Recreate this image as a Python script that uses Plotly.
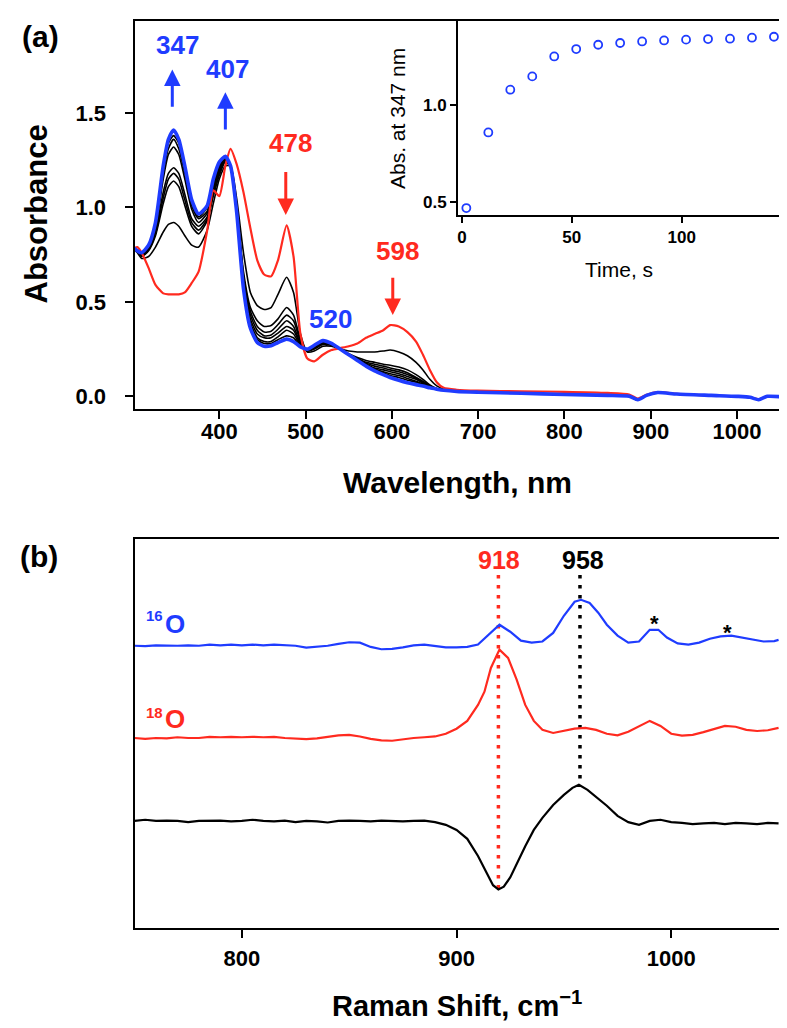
import plotly.graph_objects as go

# ---------------- Panel (a): UV-vis spectra ----------------
wl_head = [300, 305, 310, 318, 326, 335, 341, 347, 353, 360,
           368, 376, 386, 393, 400, 407, 413, 420, 428, 436,
           444, 452, 460, 468, 478, 486, 494, 502, 510, 520,
           530, 540, 550, 560, 570, 580, 590, 598, 608, 618,
           628, 636, 644, 652, 660]
wl_tail = [675, 700, 750, 800, 850, 875, 885, 895, 908, 930, 970, 1000, 1015, 1025, 1035, 1050]

red_head = [.78, .79, .76, .68, .59, .545, .54, .54, .54, .55,
            .60, .66, .88, 1.09, 1.06, 1.22, 1.31, 1.23, 1.08, .89,
            .72, .645, .635, .72, .905, .74, .33, .20, .185, .22,
            .245, .255, .265, .28, .31, .33, .35, .377, .37, .34,
            .29, .22, .14, .075, .045]
red_tail = [.035, .03, .027, .024, .018, .01, -.012, .008, .022, .013, .005, .0, -.005, -.016, .0, .0]

blue_head = [.79, .77, .76, .80, .92, 1.22, 1.36, 1.41, 1.36, 1.22,
             1.04, .965, 1.01, 1.15, 1.24, 1.27, 1.22, .98, .57, .36,
             .285, .265, .268, .285, .303, .29, .262, .25, .27, .295,
             .28, .25, .22, .19, .16, .135, .115, .10, .085, .072,
             .062, .055, .045, .038, .032]
base_tail = [.026, .022, .016, .010, .005, .0, -.018, .005, .02, .012, .005, .0, -.005, -.018, .0, -.002]

black_heads = [
    [.78, .76, .73, .74, .79, .87, .91, .92, .90, .85,
     .80, .79, .88, 1.02, 1.15, 1.22, 1.22, 1.05, .76, .55,
     .48, .46, .47, .54, .63, .55, .33, .235, .24, .265,
     .265, .25, .24, .235, .235, .235, .24, .245, .235, .215,
     .18, .14, .09, .055, .038],
    [.78, .765, .74, .77, .85, 1.02, 1.11, 1.14, 1.11, 1.01,
     .90, .86, .93, 1.06, 1.17, 1.24, 1.22, 1.02, .66, .47,
     .40, .37, .375, .41, .47, .43, .30, .24, .25, .275,
     .27, .25, .225, .205, .19, .18, .17, .165, .155, .14,
     .115, .09, .06, .042, .034],
    [.785, .77, .745, .775, .86, 1.05, 1.15, 1.18, 1.15, 1.04,
     .92, .88, .94, 1.07, 1.18, 1.25, 1.22, 1.01, .64, .45,
     .37, .34, .345, .38, .43, .40, .29, .24, .255, .28,
     .272, .25, .22, .20, .18, .17, .16, .15, .14, .125,
     .10, .08, .055, .04, .033],
    [.785, .77, .75, .78, .87, 1.08, 1.18, 1.21, 1.18, 1.07,
     .94, .90, .95, 1.08, 1.19, 1.25, 1.22, 1.00, .62, .43,
     .35, .32, .325, .355, .40, .37, .28, .245, .26, .28,
     .274, .25, .22, .195, .175, .16, .15, .14, .13, .115,
     .095, .075, .055, .04, .033],
    [.79, .77, .75, .79, .89, 1.15, 1.28, 1.32, 1.28, 1.15,
     .99, .92, .97, 1.10, 1.20, 1.26, 1.22, .99, .61, .41,
     .33, .31, .31, .335, .37, .35, .275, .245, .26, .285,
     .276, .25, .22, .19, .17, .15, .14, .13, .12, .105,
     .09, .07, .05, .039, .033],
    [.79, .77, .755, .795, .90, 1.18, 1.31, 1.36, 1.31, 1.18,
     1.01, .94, .98, 1.11, 1.21, 1.26, 1.22, .99, .60, .39,
     .31, .29, .29, .315, .35, .33, .27, .25, .265, .29,
     .278, .25, .22, .19, .165, .145, .13, .12, .11, .095,
     .08, .065, .05, .039, .033],
    [.79, .77, .755, .80, .91, 1.20, 1.34, 1.38, 1.34, 1.20,
     1.03, .95, 1.00, 1.13, 1.22, 1.27, 1.22, .985, .59, .38,
     .30, .28, .28, .30, .32, .31, .265, .25, .265, .29,
     .279, .25, .22, .19, .16, .14, .125, .11, .10, .085,
     .075, .06, .048, .038, .032],
]

# Inset: kinetics at 347 nm
time_s = [2, 12, 22, 32, 42, 52, 62, 72, 82, 92, 102, 112, 122, 132, 142]
abs347 = [0.471, 0.858, 1.077, 1.145, 1.247, 1.285, 1.307, 1.316, 1.324,
          1.329, 1.333, 1.336, 1.338, 1.343, 1.348]

# ---------------- Panel (b): Raman (offset, a.u.) ----------------
wn_16 = [750, 755, 760, 765, 770, 775, 780, 785, 790, 795, 800, 805, 810, 815, 820,
         825, 830, 835, 840, 845, 850, 855, 860, 865, 870, 875, 880, 885, 890, 895,
         900, 905, 910, 915, 920, 925, 930, 935, 940, 945, 950, 955, 958, 962, 966,
         970, 975, 980, 985, 990, 994, 998, 1003, 1008, 1013, 1018, 1023, 1028, 1033,
         1038, 1043, 1048, 1050]
int_16 = [72.5, 72.4, 72.6, 72.5, 72.5, 72.6, 72.5, 72.8, 72.6, 72.8, 72.6, 72.8, 72.6, 72.8, 72.6,
          72.5, 72.0, 72.2, 72.5, 73.0, 73.4, 73.3, 72.2, 71.6, 71.7, 72.1, 72.6, 72.8, 72.4, 72.1,
          72.1, 72.2, 72.8, 75.3, 77.9, 76.1, 73.8, 73.3, 73.6, 75.8, 80.2, 83.8, 84.3, 83.5, 81.0,
          77.9, 75.1, 73.3, 73.6, 76.6, 76.6, 74.6, 73.1, 72.8, 73.3, 74.3, 74.9, 75.1, 74.6,
          74.0, 73.6, 73.7, 74.0]

wn_18 = [750, 755, 760, 765, 770, 775, 780, 785, 790, 795, 800, 805, 810, 815, 820,
         825, 830, 835, 840, 845, 850, 855, 860, 865, 870, 875, 880, 885, 890, 895,
         900, 905, 910, 913, 916, 920, 924, 928, 932, 936, 940, 945, 950, 955, 960,
         965, 970, 975, 980, 985, 990, 995, 1000, 1005, 1010, 1015, 1020, 1025, 1030,
         1035, 1040, 1045, 1050]
int_18 = [48.8, 48.6, 48.8, 48.7, 49.0, 48.8, 48.8, 49.1, 49.0, 49.1, 49.0, 49.1, 49.0, 49.1, 48.8,
          48.6, 48.5, 48.7, 49.1, 49.5, 49.6, 49.2, 48.6, 48.2, 48.1, 48.5, 48.8, 49.0, 49.2, 49.9,
          51.2, 53.2, 57.3, 60.7, 66.8, 71.5, 69.4, 63.8, 57.3, 53.2, 50.9, 50.1, 50.6, 51.2, 51.4,
          50.9, 49.9, 49.5, 50.4, 51.9, 53.2, 51.9, 49.9, 49.4, 49.6, 50.3, 51.2, 51.9, 51.7,
          50.9, 50.6, 50.8, 51.4]

wn_diff = [750, 755, 760, 765, 770, 775, 780, 785, 790, 795, 800, 805, 810, 815, 820,
           825, 830, 835, 840, 845, 850, 855, 860, 865, 870, 875, 880, 885, 890, 895,
           900, 905, 910, 914, 917, 919.5, 922, 925, 928, 932, 936, 940, 945, 950, 954, 957, 961,
           965, 970, 975, 980, 985, 990, 995, 1000, 1005, 1010, 1015, 1020, 1025, 1030,
           1035, 1040, 1045, 1050]
int_diff = [27.5, 27.8, 27.5, 27.6, 27.5, 27.2, 27.5, 27.5, 27.6, 27.4, 27.5, 27.8, 27.5, 27.4, 27.6,
            27.2, 27.5, 27.4, 27.1, 27.5, 27.6, 27.5, 27.4, 27.6, 27.5, 27.4, 27.5, 27.6, 27.2, 26.5,
            25.2, 22.9, 18.5, 14.0, 11.0, 9.9, 10.6, 13.0, 16.5, 21.0, 25.2, 28.3, 31.6, 34.2, 36.0, 36.8, 35.5,
            33.7, 31.4, 28.8, 27.2, 26.5, 27.5, 27.8, 27.2, 27.0, 26.7, 26.9, 27.0, 26.7, 27.0,
            26.9, 26.7, 27.0, 26.9]

mark_918 = [919.5, 919.5]
mark_918_y = [90.7, 9.8]
mark_958 = [957.5, 957.5]
mark_958_y = [90.7, 36.8]

BLUE = "#1f3cff"
RED = "#ff2a1f"
BLACK = "#000000"
FONT = "Liberation Sans, Arial, sans-serif"

fig = go.Figure()

wl_full = wl_head + wl_tail
for bh in black_heads:
    fig.add_trace(go.Scatter(x=wl_full, y=bh + base_tail, mode="lines",
                             line=dict(color=BLACK, width=1.6, shape="spline", smoothing=0.6),
                             xaxis="x", yaxis="y", hoverinfo="skip"))
fig.add_trace(go.Scatter(x=wl_full, y=red_head + red_tail, mode="lines",
                         line=dict(color=RED, width=2.2, shape="spline", smoothing=0.6),
                         xaxis="x", yaxis="y"))
fig.add_trace(go.Scatter(x=wl_full, y=blue_head + base_tail, mode="lines",
                         line=dict(color=BLUE, width=3.6, shape="spline", smoothing=0.6),
                         xaxis="x", yaxis="y"))

fig.add_trace(go.Scatter(x=time_s, y=abs347, mode="markers",
                         marker=dict(symbol="circle-open", size=8, color=BLUE, line=dict(width=1.8, color=BLUE)),
                         xaxis="x2", yaxis="y2"))

# Raman
fig.add_trace(go.Scatter(x=mark_918, y=mark_918_y, mode="lines",
                         line=dict(color=RED, width=3.5, dash="3.5px,6.5px"), xaxis="x3", yaxis="y3"))
fig.add_trace(go.Scatter(x=mark_958, y=mark_958_y, mode="lines",
                         line=dict(color=BLACK, width=3.5, dash="3.5px,6.5px"), xaxis="x3", yaxis="y3"))
fig.add_trace(go.Scatter(x=wn_16, y=int_16, mode="lines", line=dict(color=BLUE, width=2.2),
                         xaxis="x3", yaxis="y3"))
fig.add_trace(go.Scatter(x=wn_18, y=int_18, mode="lines", line=dict(color=RED, width=2.2),
                         xaxis="x3", yaxis="y3"))
fig.add_trace(go.Scatter(x=wn_diff, y=int_diff, mode="lines", line=dict(color=BLACK, width=2.2),
                         xaxis="x3", yaxis="y3"))

W, H = 787, 1028
def px(x): return x / W
def py(y): return 1 - y / H

XD = [px(126.5), px(771)]
axis_common = dict(showline=True, linewidth=2, linecolor="black", mirror=True,
                   ticks="outside", tickwidth=2, tickcolor="black", showgrid=False, zeroline=False,
                   tickfont=dict(family=FONT, size=22, color="black", weight="bold"))

fig.update_layout(
    width=W, height=H, margin=dict(l=0, r=0, t=0, b=0),
    paper_bgcolor="white", plot_bgcolor="white", showlegend=False,
    xaxis=dict(axis_common, domain=XD, range=[301.7, 1048.6], tickvals=[400, 500, 600, 700, 800, 900, 1000],
               ticklen=8, anchor="y", ticklabelstandoff=-6),
    yaxis=dict(axis_common, domain=[py(401), py(13.3)], range=[-0.067, 1.985], tickvals=[0, 0.5, 1.0, 1.5],
               tickformat=".1f", ticklen=8, anchor="x", ticklabelstandoff=14),
    xaxis2=dict(axis_common, domain=[px(450), XD[1]], range=[-1.8, 144.3], tickvals=[0, 50, 100],
                ticklen=6, anchor="y2",
                tickfont=dict(family=FONT, size=17, color="black", weight="bold")),
    yaxis2=dict(axis_common, domain=[py(206.7), py(13.3)], range=[0.437, 1.427], tickvals=[0.5, 1.0],
                tickformat=".1f", ticklen=6, anchor="x2",
                tickfont=dict(family=FONT, size=17, color="black", weight="bold")),
    xaxis3=dict(axis_common, domain=XD, range=[750, 1050.2], tickvals=[800, 900, 1000],
                ticklen=8, anchor="y3", ticklabelstandoff=2),
    yaxis3=dict(axis_common, domain=[py(920), py(530.7)], range=[0, 100], ticks="",
                showticklabels=False, anchor="x3"),
)

ann = []
def txt(text, x, y, size, color="black", bold=True, xref="paper", yref="paper", angle=0, xanchor="center"):
    ann.append(dict(text=text, x=x, y=y, xref=xref, yref=yref, showarrow=False, textangle=angle,
                    xanchor=xanchor, yanchor="middle",
                    font=dict(family=FONT, size=size, color=color, weight="bold" if bold else "normal")))

txt("(a)", px(32), py(28), 30)
txt("(b)", px(31), py(548), 30)
txt("Absorbance", px(28.5), py(206), 31, angle=-90)
txt("Wavelength, nm", px(449), py(474), 30)
txt("Raman Shift, cm<sup>−1</sup>", px(449), py(996), 29)
txt("Abs. at 347 nm", px(389), py(111), 21, bold=False, angle=-90)
txt("Time, s", px(611), py(261), 21, bold=False)

# band labels (data coords)
txt("347", 351, 1.86, 26, BLUE, xref="x", yref="y")
txt("407", 410, 1.73, 26, BLUE, xref="x", yref="y")
txt("478", 482, 1.34, 26, RED, xref="x", yref="y")
txt("598", 606, 0.77, 26, RED, xref="x", yref="y")
txt("520", 529, 0.41, 26, BLUE, xref="x", yref="y")

def arrow(x, y_tip, y_tail, color):
    ann.append(dict(x=x, y=y_tip, ax=x, ay=y_tail, xref="x", yref="y", axref="x", ayref="y",
                    showarrow=True, arrowhead=2, arrowsize=1.1, arrowwidth=3, arrowcolor=color, text=" "))

arrow(345.5, 1.73, 1.48, BLUE)
arrow(407, 1.61, 1.36, BLUE)
arrow(477, 0.96, 1.24, RED)
arrow(601, 0.43, 0.68, RED)

# Raman labels
txt("918", 919.9, 94.6, 25, RED, xref="x3", yref="y3")
txt("958", 959, 94.6, 25, BLACK, xref="x3", yref="y3")
txt("16", px(146), py(607), 15, BLUE)
txt("O", px(167), py(616), 26, BLUE)
txt("18", px(146), py(704), 15, RED)
txt("O", px(167), py(711), 26, RED)
txt("*", 992, 78.1, 22, BLACK, xref="x3", yref="y3")
txt("*", 1026, 75.8, 22, BLACK, xref="x3", yref="y3")

fig.update_layout(annotations=ann)
fig.write_html("out.html")
